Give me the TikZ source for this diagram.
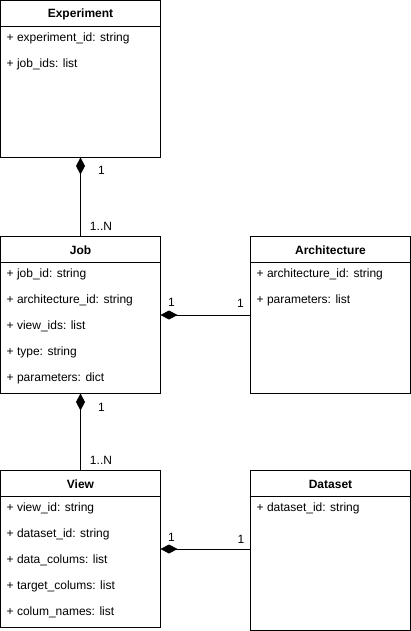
\documentclass[tikz,border=0pt]{standalone}
\usepackage{fontspec}
\setmainfont{Liberation Sans}
\usetikzlibrary{arrows.meta,positioning}

\tikzset{
  classbox/.style={draw,line width=1pt,rectangle,anchor=north west,minimum width=160pt,minimum height=157pt,inner sep=0pt,outer sep=0pt},
  classname/.style={font=\fontsize{12}{14}\selectfont\bfseries,inner sep=0pt},
  attr/.style={font=\fontsize{12}{14}\selectfont,anchor=west,inner sep=0pt},
  mult/.style={font=\fontsize{12}{14}\selectfont,inner sep=0pt},
  comp/.style={draw,line width=1pt,{Diamond[length=17pt,width=9pt]}-}
}

\begin{document}
\begin{tikzpicture}[x=1pt,y=-1pt]
\useasboundingbox (0,0) rectangle (411,631);

% classes
\node[classbox] (exp) at (0.5,0.5) {};
\node[classbox,below=79pt of exp] (job) {};
\node[classbox,right=90pt of job] (arch) {};
\node[classbox,below=77pt of job] (view) {};
\node[classbox,below=77pt of arch,minimum height=160pt] (data) {};

% names and header lines
\foreach \c/\t in {exp/Experiment,job/Job,arch/Architecture,view/View,data/Dataset}{
  \node[classname] (\c-name) at ([yshift=-14pt]\c.north) {\t};
  \draw[line width=1pt] ([yshift=-26pt]\c.north west) -- ([yshift=-26pt]\c.north east);
}

% attributes
\foreach \t [count=\i] in {+ experiment\_id: string,+ job\_ids: list}
  \node[attr] (exp-a\i) at ([xshift=6pt,yshift=-38pt-(\i-1)*26pt]exp.north west) {\t};
\foreach \t [count=\i] in {+ job\_id: string,+ architecture\_id: string,+ view\_ids: list,+ type: string,+ parameters: dict}
  \node[attr] (job-a\i) at ([xshift=6pt,yshift=-38pt-(\i-1)*26pt]job.north west) {\t};
\foreach \t [count=\i] in {+ architecture\_id: string,+ parameters: list}
  \node[attr] (arch-a\i) at ([xshift=6pt,yshift=-38pt-(\i-1)*26pt]arch.north west) {\t};
\foreach \t [count=\i] in {+ view\_id: string,+ dataset\_id: string,+ data\_colums: list,+ target\_colums: list,+ colum\_names: list}
  \node[attr] (view-a\i) at ([xshift=6pt,yshift=-38pt-(\i-1)*26pt]view.north west) {\t};
\node[attr] (data-a1) at ([xshift=6pt,yshift=-38pt]data.north west) {+ dataset\_id: string};

% compositions
\path[comp] (exp) edge (job)
            (job) edge (arch)
            (job) edge (view);
\draw[comp] (view.east) -- (view.east -| data.west);

% multiplicities
\node[mult] (m1) at (101.5,170) {1};
\node[mult] (m2) at (101,226) {1..N};
\node[mult] (m3) at (171.5,302.5) {1};
\node[mult] (m4) at (240.5,303.5) {1};
\node[mult] (m5) at (101.5,407.5) {1};
\node[mult] (m6) at (101,460) {1..N};
\node[mult] (m7) at (171.5,537.5) {1};
\node[mult] (m8) at (241,539.5) {1};
\end{tikzpicture}
\end{document}
